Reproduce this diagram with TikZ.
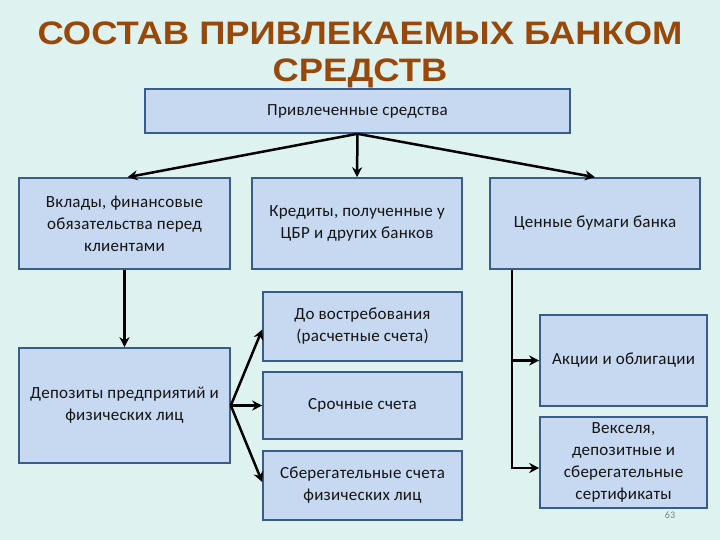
\documentclass[tikz,border=0pt]{standalone}
\usepackage{fontspec}
\setmainfont{Carlito}[LetterSpace=1.5]
\newfontfamily\titlefont{Liberation Sans}[FakeStretch=1.12]
\usetikzlibrary{arrows.meta,calc}
\definecolor{bg}{RGB}{222,243,240}
\definecolor{boxfill}{RGB}{198,217,241}
\definecolor{boxline}{RGB}{56,93,138}
\definecolor{titlec}{RGB}{152,72,10}
\definecolor{txt}{RGB}{20,20,20}
\tikzset{
  box/.style={draw=boxline, fill=boxfill, line width=1.6pt, inner sep=2pt,
    align=center, text=txt, font=\fontsize{17}{22}\selectfont},
  arr/.style={line width=2.5pt, -{Stealth[length=10pt,width=10pt]}}
}
\begin{document}
\begin{tikzpicture}[x=1pt,y=-1pt]
\fill[bg] (0,0) rectangle (720,540);
\useasboundingbox (0,0) rectangle (720,540);
\node[anchor=north, inner sep=0, align=center, text=titlec,
  font=\titlefont\bfseries\fontsize{32.5}{37}\selectfont] (title) at (360,22)
  {СОСТАВ ПРИВЛЕКАЕМЫХ БАНКОМ\\СРЕДСТВ};
\node[box, minimum width=425pt, minimum height=44pt] (top) at (357.5,111) {Привлеченные средства};
\node[box, minimum width=211pt, minimum height=91pt] (vklady) at (124.5,223.5) {Вклады, финансовые\\обязательства перед\\клиентами};
\node[box, minimum width=210pt, minimum height=91pt] (kred) at (357,223.5) {Кредиты, полученные у\\ЦБР и других банков};
\node[box, minimum width=210pt, minimum height=91pt] (cen) at (595,223.5) {Ценные бумаги банка};
\node[box, minimum width=199pt, minimum height=69pt] (dovostr) at (362.5,326.5) {До востребования\\(расчетные счета)};
\node[box, minimum width=211pt, minimum height=115pt] (depoz) at (124.5,405.5) {Депозиты предприятий и\\физических лиц};
\node[box, minimum width=199pt, minimum height=67pt] (sroch) at (362.5,405.5) {Срочные счета};
\node[box, minimum width=199pt, minimum height=69pt] (sber) at (362.5,485.5) {Сберегательные счета\\физических лиц};
\node[box, minimum width=167pt, minimum height=91pt] (akcii) at (623.5,360.5) {Акции и облигации};
\node[box, minimum width=167pt, minimum height=91pt] (veks) at (623.5,462.5) {Векселя,\\депозитные и\\сберегательные\\сертификаты};
\node[text=gray, font=\fontsize{10}{12}\selectfont, inner sep=0] (pnum) at (670,515) {63};
% connectors
\draw[arr] (top.south) -- ([xshift=3pt]vklady.north);
\draw[arr] (top.south) -- (kred.north);
\draw[arr] (top.south) -- (cen.north);
\draw[arr] (vklady.south) -- (depoz.north);
\draw[arr] (depoz.east) -- ([yshift=-3pt]dovostr.west);
\draw[arr] (depoz.east) -- (sroch.west);
\draw[arr] (depoz.east) -- ([yshift=3.5pt]sber.west);
\coordinate (trunk) at ([xshift=23pt]cen.south west);
\draw[arr] (trunk) |- ([yshift=-5.5pt]veks.west);
\draw[arr] (trunk |- akcii.west) -- (akcii.west);
\end{tikzpicture}
\end{document}
